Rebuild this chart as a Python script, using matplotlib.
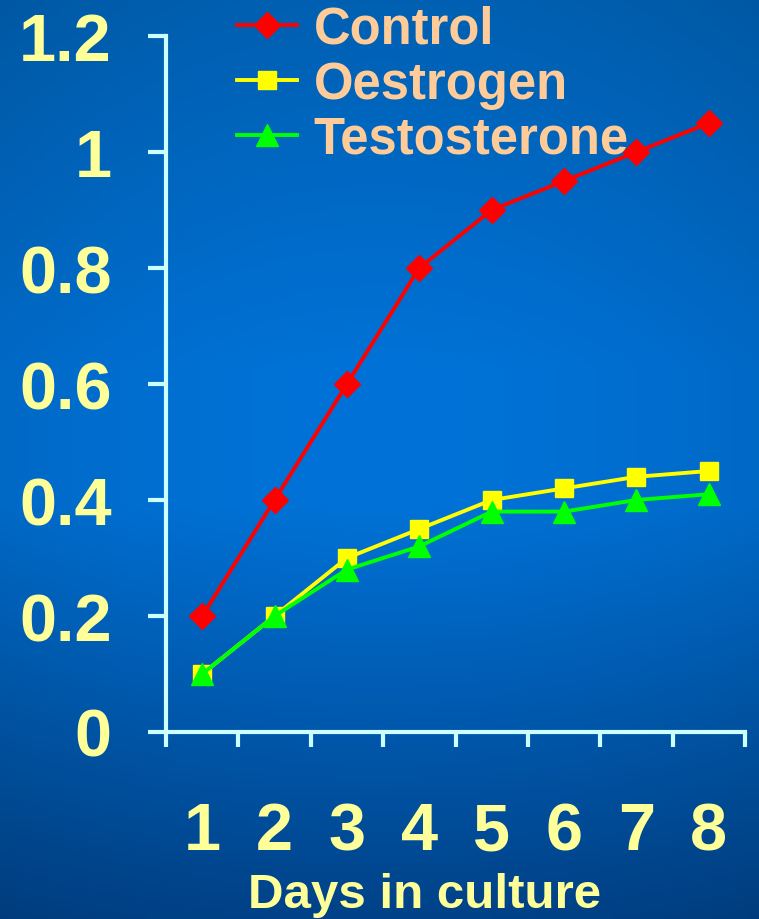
import numpy as np
import matplotlib.pyplot as plt

plt.rcParams["font.family"] = ["Liberation Sans", "DejaVu Sans"]
plt.rcParams["font.weight"] = "bold"

days = [1, 2, 3, 4, 5, 6, 7, 8]
control = [0.2, 0.4, 0.6, 0.8, 0.9, 0.95, 1.0, 1.05]
oestrogen = [0.1, 0.2, 0.3, 0.35, 0.4, 0.42, 0.44, 0.45]
testosterone = [0.1, 0.2, 0.28, 0.32, 0.38, 0.38, 0.4, 0.41]
yticks = [0, 0.2, 0.4, 0.6, 0.8, 1, 1.2]
ylabels = ["0", "0.2", "0.4", "0.6", "0.8", "1", "1.2"]

axis_col = "#ccffff"
tick_col = "#ffff99"
legend_col = "#ffcc99"

fig = plt.figure(figsize=(7.59, 9.2), dpi=100)

# blue gradient background
bg = fig.add_axes([0, 0, 1, 1], zorder=-10)
yy = np.linspace(0, 1, 200)[:, None]
xx = np.linspace(-1, 1, 200)[None, :]
top = np.array([0, 96, 178]) / 255
mid = np.array([0, 114, 215]) / 255
bot = np.array([0, 66, 136]) / 255
t = yy
w_top = np.clip(1 - t / 0.4, 0, 1)
w_bot = np.clip((t - 0.55) / 0.45, 0, 1)
w_mid = 1 - w_top - w_bot
img = w_top[..., None] * top + w_mid[..., None] * mid + w_bot[..., None] * bot
img = img * (1 - 0.08 * xx[..., None] ** 2)
bg.imshow(np.clip(img, 0, 1), aspect="auto", extent=[0, 1, 0, 1], origin="upper")
bg.axis("off")

ax = fig.add_axes([166 / 759, 1 - 733 / 920, (745 - 166) / 759, (733 - 37) / 920])
ax.patch.set_alpha(0)

ax.plot(days, control, color="red", lw=2.8, marker="D", ms=13, mec="red", label="Control")
ax.plot(days, oestrogen, color="yellow", lw=2.8, marker="s", ms=13, mec="yellow", label="Oestrogen")
ax.plot(days, testosterone, color="#00ff00", lw=2.8, marker="^", ms=16, mec="#00ff00", label="Testosterone")

ax.set_xlim(0.5, 8.5)
ax.set_ylim(0, 1.2)

for s in ["top", "right"]:
    ax.spines[s].set_visible(False)
for s in ["left", "bottom"]:
    ax.spines[s].set_color(axis_col)
    ax.spines[s].set_linewidth(3)

ax.set_yticks(yticks)
ax.set_yticklabels(ylabels)
ax.tick_params(axis="y", colors=axis_col, labelcolor=tick_col, length=13, width=3,
               labelsize=48, pad=26)

ax.set_xticks(np.arange(0.5, 9, 1))
ax.set_xticklabels([])
ax.tick_params(axis="x", which="major", colors=axis_col, length=11, width=3)
ax.set_xticks(days, minor=True)
ax.set_xticklabels([str(d) for d in days], minor=True)
ax.tick_params(axis="x", which="minor", length=0, labelcolor=tick_col, labelsize=48, pad=50)

ax.set_xlabel("Days in culture", color=tick_col, fontsize=35.5, fontweight="bold", va="bottom")
ax.xaxis.set_label_coords((424 - 166) / 579, (733 - 918) / 696)

leg = fig.legend(loc="upper left", bbox_to_anchor=(207 / 759, 1 + 25 / 920), frameon=False,
                 fontsize=36.5, handlelength=1.17, handletextpad=0.33, labelspacing=0.12,
                 borderpad=0.1)
for txt in leg.get_texts():
    txt.set_color(legend_col)

fig.savefig("out.png", dpi=100)
